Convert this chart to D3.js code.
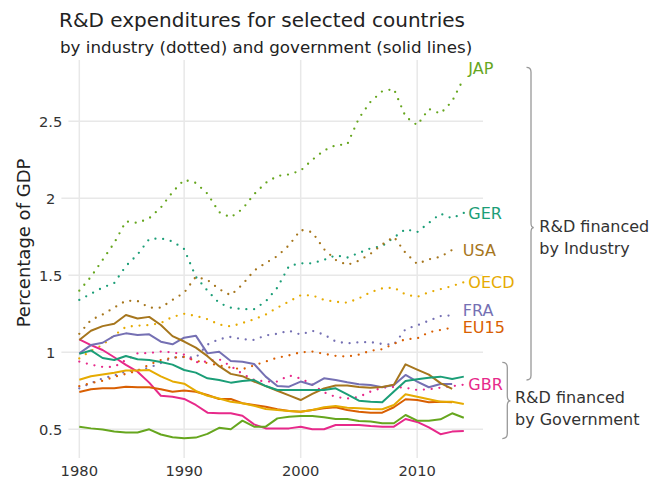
<!DOCTYPE html>
<html><head><meta charset="utf-8">
<script src="https://cdn.jsdelivr.net/npm/d3@7"></script>
<style>
body{margin:0;background:#fff;}
svg{display:block;font-family:"DejaVu Sans",Verdana,sans-serif;}
</style></head><body>
<svg id="chart" width="652" height="479"></svg>
<script>
// categories (the axis is categorical: one year is absent in the source)
const years = [1980,1981,1982,1983,1984,1985,1986,1987,1988,1990,1991,1992,1993,1994,1995,1996,1997,1998,1999,2000,2001,2002,2003,2004,2005,2006,2007,2008,2009,2010,2011,2012,2013,2014];
const xTicks = [1980,1990,2000,2010];
const yTicks = [0.5,1,1.5,2,2.5];
const countries = ["JAP","GER","USA","OECD","FRA","EU15","GBR"];
const countryColors = ["#66a61e","#1b9e77","#a6761d","#e6ab02","#7570b3","#d95f02","#e7298a"];

// R&D financed by industry (% of GDP), dotted
const industryJAP  = [1.40,1.49,1.60,1.71,1.85,1.84,1.87,1.94,2.04,2.12,2.10,2.03,1.91,1.876,1.93,2.026,2.10,2.145,2.155,2.18,2.25,2.31,2.345,2.35,2.52,2.627,2.695,2.71,2.53,2.475,2.58,2.55,2.63,2.78];
const industryGER  = [1.34,1.38,1.42,1.45,1.56,1.635,1.735,1.74,1.72,1.67,1.49,1.40,1.32,1.29,1.28,1.28,1.33,1.42,1.56,1.578,1.578,1.60,1.63,1.615,1.645,1.675,1.69,1.745,1.80,1.78,1.84,1.90,1.87,1.905];
const industryUSA  = [1.12,1.21,1.245,1.29,1.335,1.333,1.29,1.29,1.34,1.387,1.49,1.47,1.41,1.37,1.44,1.53,1.58,1.625,1.695,1.795,1.78,1.67,1.60,1.567,1.595,1.64,1.70,1.75,1.645,1.573,1.604,1.62,1.665];
const industryOECD = [0.96,1.01,1.047,1.11,1.165,1.173,1.177,1.19,1.23,1.25,1.236,1.215,1.18,1.168,1.19,1.214,1.245,1.29,1.33,1.37,1.37,1.34,1.328,1.322,1.35,1.39,1.415,1.42,1.375,1.36,1.39,1.41,1.43,1.455];
const industryFRA  = [0.766,0.80,0.83,0.85,0.875,0.885,0.90,0.93,0.965,0.97,0.965,1.05,1.085,1.10,1.085,1.08,1.11,1.12,1.14,1.115,1.14,1.115,1.07,1.058,1.065,1.066,1.054,1.05,1.15,1.175,1.205,1.235,1.24];
const industryEU15 = [0.78,0.80,0.815,0.84,0.86,0.88,0.92,0.95,0.965,0.97,0.945,0.93,0.915,0.90,0.89,0.915,0.94,0.965,0.98,1.0,1.005,0.99,0.977,0.972,0.985,1.01,1.02,1.055,1.085,1.09,1.13,1.145,1.16];
const industryGBR  = [0.94,0.92,0.905,0.905,0.95,0.993,0.995,1.005,1.0,0.985,0.935,0.94,0.955,0.91,0.86,0.82,0.81,0.81,0.85,0.83,0.79,0.74,0.71,0.70,0.71,0.745,0.77,0.775,0.77,0.755,0.76,0.77,0.78,0.79];

// R&D financed by government (% of GDP), solid
const govJAP  = [0.517,0.506,0.498,0.485,0.479,0.479,0.50,0.466,0.448,0.442,0.446,0.47,0.51,0.50,0.556,0.517,0.517,0.571,0.582,0.586,0.586,0.578,0.567,0.567,0.554,0.55,0.539,0.539,0.593,0.556,0.556,0.565,0.604,0.575];
const govGER  = [0.99,1.012,0.963,0.95,0.976,0.955,0.95,0.937,0.92,0.885,0.868,0.831,0.82,0.803,0.814,0.82,0.781,0.755,0.755,0.755,0.755,0.755,0.766,0.727,0.686,0.679,0.675,0.745,0.814,0.825,0.835,0.842,0.827,0.842];
const govUSA  = [1.08,1.14,1.17,1.185,1.242,1.22,1.23,1.177,1.105,1.07,1.03,0.975,0.91,0.86,0.845,0.81,0.78,0.75,0.72,0.69,0.73,0.765,0.785,0.785,0.775,0.77,0.775,0.79,0.922,0.888,0.855,0.80,0.762];
const govOECD = [0.822,0.845,0.856,0.867,0.882,0.882,0.885,0.844,0.811,0.796,0.749,0.718,0.70,0.679,0.669,0.653,0.632,0.625,0.619,0.614,0.625,0.643,0.651,0.64,0.636,0.632,0.63,0.658,0.727,0.712,0.695,0.679,0.679,0.664];
const govFRA  = [0.993,1.047,1.062,1.106,1.123,1.112,1.117,1.069,1.052,1.095,1.108,0.993,1.004,0.944,0.939,0.924,0.842,0.781,0.777,0.81,0.788,0.831,0.82,0.805,0.792,0.788,0.773,0.788,0.853,0.81,0.773,0.794,0.794];
const govEU15 = [0.742,0.76,0.766,0.766,0.777,0.773,0.773,0.76,0.744,0.752,0.744,0.723,0.697,0.697,0.669,0.658,0.647,0.63,0.619,0.614,0.625,0.636,0.643,0.625,0.614,0.608,0.608,0.643,0.695,0.69,0.675,0.679,0.675];
const govGBR  = [1.084,1.047,1.015,0.968,0.918,0.874,0.803,0.718,0.712,0.697,0.658,0.608,0.604,0.604,0.588,0.532,0.506,0.506,0.506,0.517,0.50,0.50,0.528,0.528,0.528,0.521,0.517,0.517,0.567,0.548,0.512,0.468,0.485,0.489];

const titleText = "R&D expenditures for selected countries";
const subtitleText = "by industry (dotted) and government (solid lines)";
const yTitle = "Percentage of GDP";

const industry = {JAP:industryJAP,GER:industryGER,USA:industryUSA,OECD:industryOECD,FRA:industryFRA,EU15:industryEU15,GBR:industryGBR};
const gov = {JAP:govJAP,GER:govGER,USA:govUSA,OECD:govOECD,FRA:govFRA,EU15:govEU15,GBR:govGBR};
const color = d3.scaleOrdinal().domain(countries).range(countryColors);

const svg = d3.select("#chart");
const x = d3.scalePoint().domain(years).range([79.3, 463.8]);
const y = d3.scaleLinear().domain([0.5, 2.5]).range([429.3, 121.3]);
const plotRight = 483, gridTop = 60, gridBottom = 458;

// titles
svg.append("text").attr("x",59).attr("y",26.5).attr("font-size",20).attr("fill","#222").text(titleText);
svg.append("text").attr("x",60).attr("y",52.5).attr("font-size",16.7).attr("fill","#222").text(subtitleText);
svg.append("text").attr("transform","translate(29.5,243) rotate(-90)").attr("text-anchor","middle")
  .attr("font-size",18).attr("fill","#222").text(yTitle);

// vertical grid + x labels
const gx = svg.append("g");
gx.selectAll("line").data(xTicks).join("line")
  .attr("x1",d=>x(d)).attr("x2",d=>x(d)).attr("y1",gridTop).attr("y2",gridBottom)
  .attr("stroke","#e8e8e8").attr("stroke-width",1.5);
gx.selectAll("text").data(xTicks).join("text")
  .attr("x",d=>x(d)).attr("y",476).attr("text-anchor","middle").attr("font-size",14.7).attr("fill","#333").text(d=>d);

// y labels + horizontal grid starting after label
const gy = svg.append("g");
yTicks.forEach(t=>{
  const lab = gy.append("text").attr("x",50.7).attr("y",y(t)).attr("dy","0.36em").attr("text-anchor","middle")
    .attr("font-size",14.7).attr("fill","#333").text(d3.format("~g")(t));
  const bb = lab.node().getBBox();
  gy.insert("line","text").attr("x1",bb.x+bb.width+6).attr("x2",plotRight).attr("y1",y(t)).attr("y2",y(t))
    .attr("stroke","#e8e8e8").attr("stroke-width",1.5);
});

const line = d3.line().x(d=>x(d[0])).y(d=>y(d[1]));
const pairs = arr => arr.map((v,i)=>[years[i],v]);

const gl = svg.append("g").attr("fill","none");
countries.forEach(c=>{
  gl.append("path").attr("d",line(pairs(industry[c]))).attr("stroke",color(c))
    .attr("stroke-width",2.3).attr("stroke-linecap","round").attr("stroke-dasharray","0,7.8");
});
countries.slice().reverse().forEach(c=>{
  gl.append("path").attr("d",line(pairs(gov[c]))).attr("stroke",color(c))
    .attr("stroke-width",2).attr("stroke-linejoin","round");
});

// end labels next to the industry lines
const labelNudge = {JAP:-10, FRA:-5};
countries.forEach(c=>{
  const arr = industry[c];
  const lastYear = years[arr.length-1];
  svg.append("text").attr("x", x(lastYear) + (lastYear===2014 ? 4.5 : 10.6))
    .attr("y", y(arr[arr.length-1]) + (labelNudge[c]||0)).attr("dy","0.36em")
    .attr("font-size",16).attr("fill",color(c)).text(c);
});

// braces
function brace(xv, y0, y1, ym, w, tip){
  return `M${xv-w},${y0} Q${xv},${y0} ${xv},${y0+w} L${xv},${ym-w} Q${xv},${ym} ${xv+tip},${ym} Q${xv},${ym} ${xv},${ym+w} L${xv},${y1-w} Q${xv},${y1} ${xv-w},${y1}`;
}
const ga = svg.append("g");
ga.append("path").attr("d",brace(531, y(2.85), y(0.82), y(1.81), 4.5, 2.8)).attr("fill","none").attr("stroke","#999").attr("stroke-width",1.3);
ga.append("path").attr("d",brace(507.3, y(0.935), y(0.44), y(0.685), 5, 3.2)).attr("fill","none").attr("stroke","#999").attr("stroke-width",1.3);
const ann = [["R&D financed",539.3,232],["by Industry",539.3,253.5],["R&D financed",515,403],["by Government",515,424.5]];
ga.selectAll("text.ann").data(ann).join("text").attr("class","ann")
  .attr("x",d=>d[1]).attr("y",d=>d[2]).attr("font-size",16).attr("fill","#333").text(d=>d[0]);
</script>
</body></html>
